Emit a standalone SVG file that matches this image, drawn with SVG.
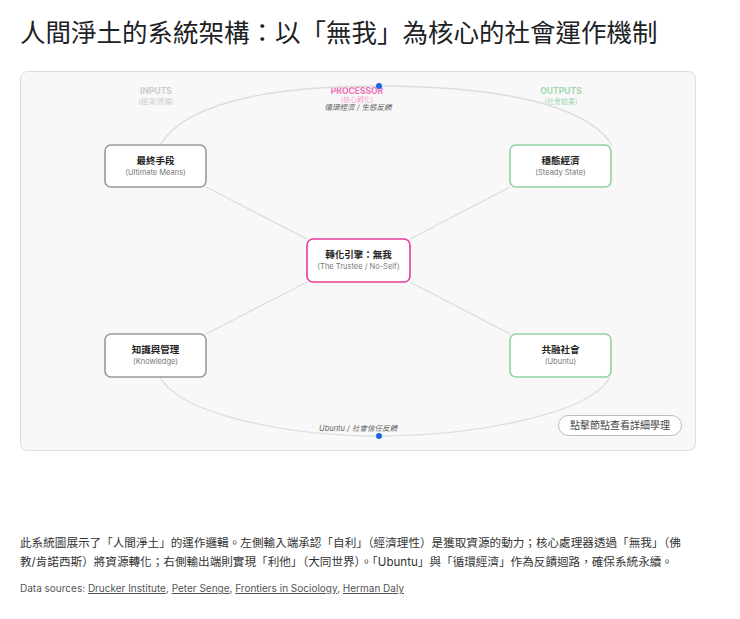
<svg xmlns="http://www.w3.org/2000/svg" width="740" height="619" viewBox="0 0 740 619">
<style>
text{font-family:"Inter","Noto Sans CJK TC",sans-serif}
.n rect{fill:#fff;stroke-width:1.6}
.t{font-size:9.5px;font-weight:700;fill:#222;text-anchor:middle}
.s{font-size:7.5px;fill:#777;text-anchor:middle}
.h{font-size:8.5px;font-weight:700;text-anchor:middle}
.hs{font-size:7px;text-anchor:middle}
.c{fill:none;stroke:#ddd;stroke-width:1.3}
.p{font-size:11.6px;fill:#333}
.lk{text-decoration:underline}
</style>
<rect width="740" height="619" fill="#fff"/>
<text x="20" y="42" font-size="25.5" fill="#202124">人間淨土的系統架構：以「無我」為核心的社會運作機制</text>
<rect x="20.5" y="71.5" width="675" height="379" rx="7" fill="#f8f8f8" stroke="#ddd"/>
<text class="h" x="156" y="94" fill="#ccc">INPUTS</text>
<text class="hs" x="156" y="104" fill="#ccc">(經濟/資源)</text>
<text class="h" x="357" y="94" fill="#f06fb4">PROCESSOR</text>
<text class="hs" x="357" y="102" fill="#f7a8d2">(核心轉化)</text>
<text class="h" x="561" y="94" fill="#9fd9b0">OUTPUTS</text>
<text class="hs" x="561" y="104" fill="#9fd9b0">(社會結果)</text>
<g id="connectors">
<path class="c" d="M160 145 C190 95 300 86 379 86 C460 86 580 95 612 145"/>
<path class="c" d="M160 377 C180 415 290 436 379 436 C470 436 590 415 610 377"/>
<line class="c" x1="206" y1="187" x2="307" y2="239"/>
<line class="c" x1="510" y1="187" x2="410" y2="239"/>
<line class="c" x1="206" y1="334" x2="307" y2="282"/>
<line class="c" x1="510" y1="334" x2="410" y2="282"/>
<circle cx="379" cy="86" r="3" fill="#1a66e0"/>
<circle cx="379" cy="436" r="3" fill="#1a66e0"/>
<text x="358" y="110" font-size="7.5" font-style="italic" fill="#666" text-anchor="middle">循環經濟 / 生態反饋</text>
<text x="358" y="431" font-size="7.5" font-style="italic" fill="#666" text-anchor="middle">Ubuntu / 社會信任反饋</text>
</g>
<g id="n1" class="n"><rect x="105" y="145" width="101" height="42" rx="6" stroke="#999"/><text class="t" x="155.5" y="164">最終手段</text><text class="s" x="155.5" y="175">(Ultimate Means)</text></g>
<g id="n2" class="n"><rect x="510" y="145" width="101" height="42" rx="6" stroke="#8fd3a3"/><text class="t" x="560.5" y="164">穩態經濟</text><text class="s" x="560.5" y="175">(Steady State)</text></g>
<g id="n3" class="n"><rect x="307" y="239" width="103" height="43" rx="6" stroke="#e83e9c"/><text class="t" x="358.5" y="258">轉化引擎：無我</text><text class="s" x="358.5" y="269">(The Trustee / No-Self)</text></g>
<g id="n4" class="n"><rect x="105" y="334" width="101" height="43" rx="6" stroke="#999"/><text class="t" x="155.5" y="353">知識與管理</text><text class="s" x="155.5" y="364">(Knowledge)</text></g>
<g id="n5" class="n"><rect x="510" y="334" width="101" height="43" rx="6" stroke="#8fd3a3"/><text class="t" x="560.5" y="353">共融社會</text><text class="s" x="560.5" y="364">(Ubuntu)</text></g>
<g id="btn"><rect x="558.5" y="415.5" width="123" height="20" rx="10" fill="#fff" stroke="#bbb"/><text x="620" y="429" font-size="10" fill="#444" text-anchor="middle">點擊節點查看詳細學理</text></g>
<text class="p" x="20" y="547">此系統圖展示了「人間淨土」的運作邏輯。左側輸入端承認「自利」（經濟理性）是獲取資源的動力；核心處理器透過「無我」（佛</text>
<text class="p" x="20" y="566">教/肯諾西斯）將資源轉化；右側輸出端則實現「利他」（大同世界）。「Ubuntu」與「循環經濟」作為反饋迴路，確保系統永續。</text>
<text x="20" y="592" font-size="10" fill="#555">Data sources: <tspan class="lk">Drucker Institute</tspan>, <tspan class="lk">Peter Senge</tspan>, <tspan class="lk">Frontiers in Sociology</tspan>, <tspan class="lk">Herman Daly</tspan></text>
</svg>
